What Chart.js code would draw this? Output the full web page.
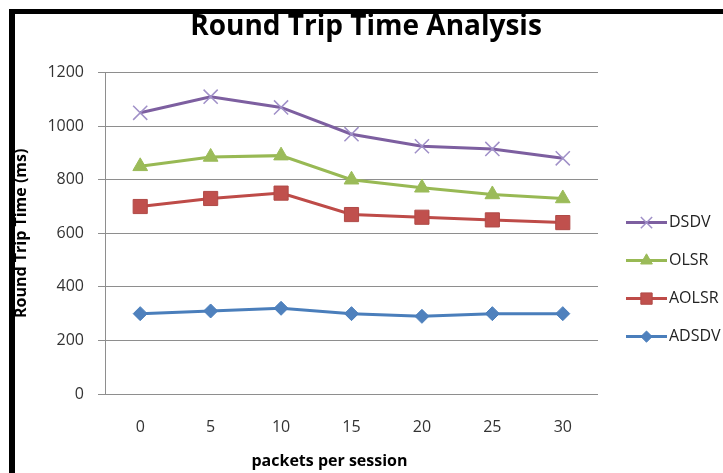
<!DOCTYPE html>
<html>
<head>
<meta charset="utf-8">
<script src="https://cdn.jsdelivr.net/npm/chart.js@4.4.1/dist/chart.umd.min.js"></script>
<style>
    html, body { margin: 0; padding: 0; background: #fff; }
    #wrap { position: relative; width: 723px; height: 473px; overflow: hidden; }
    #frameTop { position: absolute; left: 9px; top: 9px; width: 714px; height: 5px; background: #000; }
    #frameLeft { position: absolute; left: 9px; top: 9px; width: 6px; height: 464px; background: #000; }
</style>
</head>
<body>
<div id="wrap">
    <canvas id="rttChart" width="723" height="473"></canvas>
    <div id="frameTop"></div>
    <div id="frameLeft"></div>
</div>
<script>
// packets per session (x categories)
const packets = ['0', '5', '10', '15', '20', '25', '30'];

// round trip time in ms
const dsdv = [1050, 1110, 1070, 970, 925, 915, 880];
const olsr = [850, 885, 890, 800, 770, 745, 730];
const aolsr = [700, 730, 750, 670, 660, 650, 640];
const adsdv = [300, 310, 320, 300, 290, 300, 300];

const yTicks = [0, 200, 400, 600, 800, 1000, 1200];

const FONT = '"Open Sans", Lato, sans-serif';
const GRID = '#8e8e8e';

// excel style legend: line with the marker in the middle
const lineLegend = {
    id: 'lineLegend',
    afterDraw(chart) {
        const ctx = chart.ctx;
        const area = chart.chartArea;
        const x0 = area.right + 28;
        const x1 = area.right + 69;
        chart.data.datasets.forEach((ds, i) => {
            const y = area.top + 150 + i * 38;
            ctx.save();
            ctx.strokeStyle = ds.borderColor;
            ctx.lineWidth = ds.borderWidth;
            ctx.beginPath();
            ctx.moveTo(x0, y);
            ctx.lineTo(x1, y);
            ctx.stroke();
            ctx.fillStyle = ds.pointBackgroundColor;
            ctx.strokeStyle = ds.pointBorderColor;
            ctx.lineWidth = ds.pointBorderWidth;
            Chart.helpers.drawPoint(ctx, {
                pointStyle: ds.pointStyle,
                radius: ds.pointRadius * 0.8,
                borderWidth: ds.pointBorderWidth,
                rotation: 0
            }, (x0 + x1) / 2, y);
            ctx.fillStyle = '#222';
            ctx.font = '16px ' + FONT;
            ctx.textBaseline = 'middle';
            ctx.textAlign = 'left';
            ctx.fillText(ds.label, x1 + 2, y);
            ctx.restore();
        });
    }
};

// x axis title sits a bit left of the plot centre in the original
const xAxisTitle = {
    id: 'xAxisTitle',
    afterDraw(chart) {
        const ctx = chart.ctx;
        const area = chart.chartArea;
        ctx.save();
        ctx.fillStyle = '#000';
        ctx.font = 'bold 16px ' + FONT;
        ctx.textAlign = 'center';
        ctx.textBaseline = 'middle';
        ctx.fillText('packets per session', (area.left + area.right) / 2 - 22, chart.height - 12);
        ctx.restore();
    }
};

const data = {
    labels: packets,
    datasets: [
        {
            label: 'DSDV',
            data: dsdv,
            borderColor: '#7D5FA0',
            borderWidth: 3,
            pointStyle: 'crossRot',
            pointRadius: 10,
            pointBorderColor: '#A090C8',
            pointBackgroundColor: '#A090C8',
            pointBorderWidth: 1.5
        },
        {
            label: 'OLSR',
            data: olsr,
            borderColor: '#98B954',
            borderWidth: 3,
            pointStyle: 'triangle',
            pointRadius: 8.5,
            pointBorderColor: '#9BBB59',
            pointBackgroundColor: '#9BBB59',
            pointBorderWidth: 1
        },
        {
            label: 'AOLSR',
            data: aolsr,
            borderColor: '#BE4B48',
            borderWidth: 3,
            pointStyle: 'rect',
            pointRadius: 10,
            pointBorderColor: '#B04A47',
            pointBackgroundColor: '#C0504D',
            pointBorderWidth: 1
        },
        {
            label: 'ADSDV',
            data: adsdv,
            borderColor: '#4A7EBB',
            borderWidth: 3,
            pointStyle: 'rectRot',
            pointRadius: 7,
            pointBorderColor: '#4A7EBB',
            pointBackgroundColor: '#4F81BD',
            pointBorderWidth: 1
        }
    ]
};

new Chart(document.getElementById('rttChart'), {
    type: 'line',
    data: data,
    options: {
        responsive: false,
        animation: false,
        devicePixelRatio: 1,
        layout: { padding: { left: 9, right: 0, top: 0, bottom: 0 } },
        elements: { line: { tension: 0 } },
        plugins: {
            legend: { display: false },
            tooltip: { enabled: false },
            title: {
                display: true,
                text: 'Round Trip Time Analysis',
                color: '#000',
                font: { family: FONT, size: 28, weight: 'bold' },
                padding: { top: 10, bottom: 29 }
            }
        },
        scales: {
            x: {
                offset: true,
                grid: { display: false },
                border: { display: false },
                ticks: { color: '#333', padding: 16, font: { family: FONT, size: 16 } },
                afterFit: (scale) => { scale.height = 79; }
            },
            y: {
                min: 0,
                max: 1200,
                afterBuildTicks: (scale) => { scale.ticks = yTicks.map(v => ({ value: v })); },
                grid: { color: GRID, tickLength: 7 },
                border: { color: GRID },
                ticks: {
                    color: '#333',
                    padding: 14,
                    font: { family: FONT, size: 16 },
                    callback: (value) => String(value)
                },
                title: {
                    display: true,
                    text: 'Round Trip Time (ms)',
                    color: '#000',
                    font: { family: FONT, size: 16, weight: 'bold' },
                    padding: { top: 3, bottom: 0 }
                },
                afterFit: (scale) => { scale.width = 96; }
            },
            // empty axis on the right, only keeps room for the legend
            legendRoom: {
                position: 'right',
                display: true,
                grid: { display: false },
                border: { display: false },
                ticks: { display: false },
                afterFit: (scale) => { scale.width = 125; }
            }
        }
    },
    plugins: [lineLegend, xAxisTitle]
});
</script>
</body>
</html>
